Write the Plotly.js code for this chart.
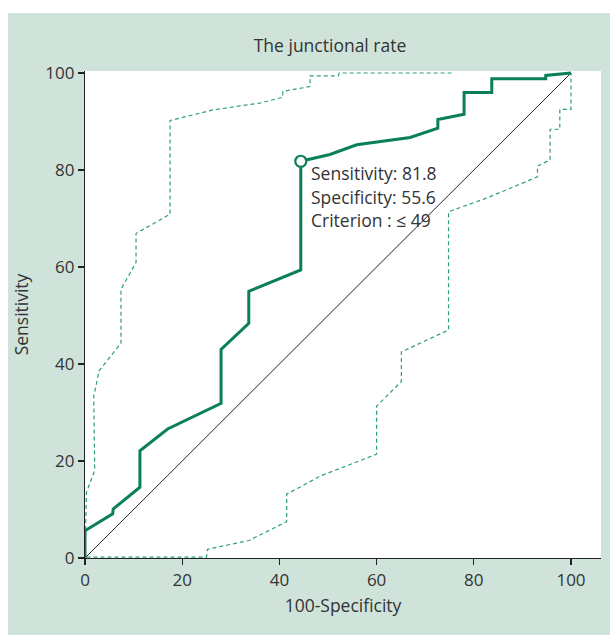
<!DOCTYPE html>
<html>
<head>
<meta charset="utf-8">
<script src="https://cdn.plot.ly/plotly-3.0.1.min.js"></script>
<style>html,body{margin:0;padding:0;background:#fff;}</style>
</head>
<body>
<div id="chart" style="width:610px;height:635px;"></div>
<script>
// ROC curve (100-Specificity vs Sensitivity)
var rocX = [0, 0, 5.7, 5.8, 11.3, 11.3, 17.0, 28.0, 28.0, 33.7, 33.7, 44.4, 44.4, 50.4, 55.9, 66.9, 72.6, 72.6, 78.0, 78.0, 83.7, 83.7, 94.8, 94.8, 100];
var rocY = [0, 5.6, 9.1, 10.1, 14.6, 22.1, 26.6, 31.9, 43.0, 48.4, 55.0, 59.4, 81.8, 83.2, 85.2, 86.7, 88.6, 90.4, 91.5, 96.0, 96.0, 98.8, 98.8, 99.5, 100];
// Upper confidence bound
var upX = [0, 0.3, 2.0, 1.8, 2.9, 7.4, 7.4, 10.5, 10.5, 17.5, 17.5, 19.5, 26.4, 36.0, 40.7, 40.7, 46.3, 46.3, 52.1, 52.3, 75.4];
var upY = [0, 13.5, 18.1, 33.3, 38.6, 44.3, 55.4, 60.9, 66.9, 70.9, 90.2, 90.7, 92.4, 93.8, 95.0, 96.2, 97.2, 99.4, 99.4, 100, 100];
// Lower confidence bound
var loX = [0.3, 25.0, 25.2, 33.7, 41.5, 41.5, 44.2, 48.4, 60.0, 60.0, 65.1, 65.1, 74.8, 74.8, 82.6, 93.1, 93.1, 95.7, 95.7, 97.7, 97.7, 100, 100];
var loY = [0.2, 0.2, 1.8, 3.6, 7.5, 13.2, 14.6, 16.9, 21.4, 31.3, 36.4, 42.5, 47.0, 71.4, 74.2, 78.6, 80.8, 82.1, 88.4, 88.4, 92.5, 92.5, 100];
// Reference diagonal
var diagX = [0, 100];
var diagY = [0, 100];
// Optimal criterion point
var critX = [44.4];
var critY = [81.8];
var critLabels = ["Sensitivity: 81.8", "Specificity: 55.6", "Criterion : \u2264 49"];
var xTicks = [0, 20, 40, 60, 80, 100];
var yTicks = [0, 20, 40, 60, 80, 100];

var green = '#0b8058';
var dashGreen = '#2f9f78';
var bg = '#cfe3da';
var txt = '#333333';
var font = 'Open Sans, Noto Sans, sans-serif';

var traces = [
  {x: diagX, y: diagY, mode: 'lines', line: {color: '#222', width: 1}, hoverinfo: 'skip'},
  {x: upX, y: upY, mode: 'lines', line: {color: dashGreen, width: 1.2, dash: '4px,3px'}},
  {x: loX, y: loY, mode: 'lines', line: {color: dashGreen, width: 1.2, dash: '4px,3px'}},
  {x: rocX, y: rocY, mode: 'lines', line: {color: green, width: 3}},
  {x: critX, y: critY, mode: 'markers', marker: {symbol: 'circle', size: 11, color: '#ffffff', line: {width: 2.2, color: green}}}
];

// margins: plot area x 85..601, y 71..558
var L = 85, R = 9, T = 71, B = 77, W = 610, H = 635;
var pw = W - L - R, ph = H - T - B;
function px2x(p) { return (p - L) / pw; }
function py2y(p) { return (H - B - p) / ph; }

var annotations = critLabels.map(function (t, i) {
  return {
    x: 46.0, y: [79.4, 74.4, 69.6][i], xref: 'x', yref: 'y',
    text: t, showarrow: false, xanchor: 'left', yanchor: 'middle',
    font: {family: font, size: 17.5, color: txt}
  };
});

var layout = {
  width: W, height: H,
  margin: {l: L, r: R, t: T, b: B},
  paper_bgcolor: bg,
  plot_bgcolor: '#ffffff',
  showlegend: false,
  font: {family: font, size: 17, color: txt},
  title: {
    text: 'The junctional rate',
    x: px2x(330), xref: 'paper', xanchor: 'center',
    y: 1 - 46 / H, yref: 'container', yanchor: 'middle',
    font: {family: font, size: 17.5, color: txt}
  },
  xaxis: {
    range: [0, pw / 4.86],
    tickvals: xTicks, ticktext: xTicks.map(String),
    ticks: 'outside', ticklen: 6, tickwidth: 1.2, tickcolor: '#222',
    showline: true, linecolor: '#222', linewidth: 1.2,
    showgrid: false, zeroline: false,
    tickfont: {family: font, size: 17, color: txt},
    title: {text: '100-Specificity', font: {family: font, size: 17.5, color: txt}, standoff: 10}
  },
  yaxis: {
    range: [0, ph / 4.85],
    tickvals: yTicks, ticktext: yTicks.map(String),
    ticks: 'outside', ticklen: 6, tickwidth: 1.2, tickcolor: '#222',
    showline: true, linecolor: '#222', linewidth: 1.2,
    showgrid: false, zeroline: false,
    tickfont: {family: font, size: 17, color: txt},
    title: {text: 'Sensitivity', font: {family: font, size: 17.5, color: txt}, standoff: 12}
  },
  annotations: annotations,
  shapes: [
    {type: 'rect', xref: 'paper', yref: 'paper', layer: 'above',
     x0: px2x(-2), x1: px2x(W + 2), y0: py2y(13), y1: py2y(-2),
     fillcolor: '#ffffff', line: {width: 0}},
    {type: 'rect', xref: 'paper', yref: 'paper', layer: 'above',
     x0: px2x(-2), x1: px2x(8), y0: py2y(H + 2), y1: py2y(-2),
     fillcolor: '#ffffff', line: {width: 0}}
  ]
};

Plotly.newPlot('chart', traces, layout, {displayModeBar: false, staticPlot: true});
</script>
</body>
</html>
